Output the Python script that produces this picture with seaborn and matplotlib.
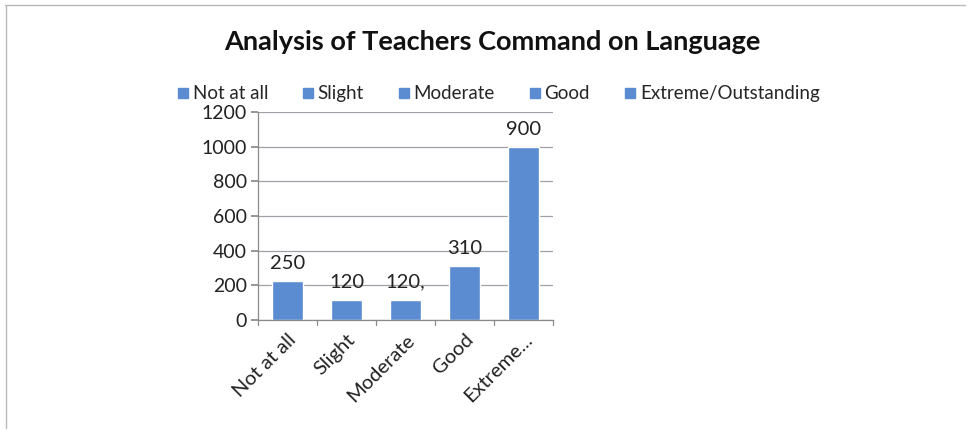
import matplotlib
matplotlib.use("Agg")
import matplotlib.pyplot as plt
import seaborn as sns
import pandas as pd
from matplotlib.lines import Line2D

categories = ["Not at all", "Slight", "Moderate", "Good", "Extreme/Outstanding"]
tick_labels = ["Not at all", "Slight", "Moderate", "Good", "Extreme..."]
values = [225, 118, 118, 312, 1000]
label_texts = ["250", "120", "120,", "310", "900"]
y_ticks = [0, 200, 400, 600, 800, 1000, 1200]
title = "Analysis of Teachers Command on Language"

bar_color = "#5b8bd0"

sns.set_theme(style="white")
plt.rcParams['font.family'] = ['Lato', 'DejaVu Sans']

df = pd.DataFrame({"cat": categories, "val": values})

fig = plt.figure(figsize=(9.7, 4.32), dpi=100)
ax = fig.add_axes([0.266, 0.2593, 0.304, 0.4815])

sns.barplot(data=df, x="cat", y="val", hue="cat", palette=[bar_color] * 5,
            width=0.52, legend=False, ax=ax, saturation=1)

ax.set_ylim(0, 1200)
ax.set_xlim(-0.5, 4.5)
ax.set_yticks(y_ticks)
ax.set_yticklabels([str(t) for t in y_ticks], fontsize=14, color="#222222")
ax.yaxis.grid(True, color="#a0a0a8", linewidth=0.9)
ax.set_axisbelow(True)
ax.set_xlabel("")
ax.set_ylabel("")

ax.set_xticks(range(len(tick_labels)))
ax.set_xticklabels(tick_labels, rotation=45, ha="right", rotation_mode="anchor",
                   fontsize=14.5, color="#222222")
ax.tick_params(axis="x", length=0, pad=8)
# category separator ticks
for b in [i - 0.5 for i in range(len(categories) + 1)]:
    ax.plot([b, b], [0, -30], color="#8a8a8a", lw=0.9, clip_on=False,
            transform=ax.transData)
ax.tick_params(axis="y", length=5, color="#8a8a8a", left=True, pad=3)

for s in ["top", "right"]:
    ax.spines[s].set_visible(False)
for s in ["left", "bottom"]:
    ax.spines[s].set_color("#8a8a8a")
    ax.spines[s].set_linewidth(0.9)

for i, (v, t) in enumerate(zip(values, label_texts)):
    ax.text(i, v + 50, t, ha="center", va="bottom", fontsize=14.5, color="#222222")

fig.text(0.508, 0.902, title, ha="center", va="center", fontsize=19.5,
         fontweight="bold", color="#111111")

handles = [Line2D([0], [0], marker="s", linestyle="none", markersize=7.5,
                  markerfacecolor=bar_color, markeredgecolor=bar_color)
           for _ in categories]
fig.legend(handles, categories, loc="center", bbox_to_anchor=(0.513, 0.783),
           ncol=5, frameon=False, fontsize=13.5, handletextpad=0.1,
           columnspacing=1.75, handlelength=0.8)

# outer border (top and left edges visible)
fig.add_artist(Line2D([0.005, 0.995], [0.988, 0.988], color="#b8b8b8", lw=1,
                      transform=fig.transFigure))
fig.add_artist(Line2D([0.006, 0.006], [0.01, 0.988], color="#b8b8b8", lw=1,
                      transform=fig.transFigure))

fig.savefig("out.png", dpi=100)
